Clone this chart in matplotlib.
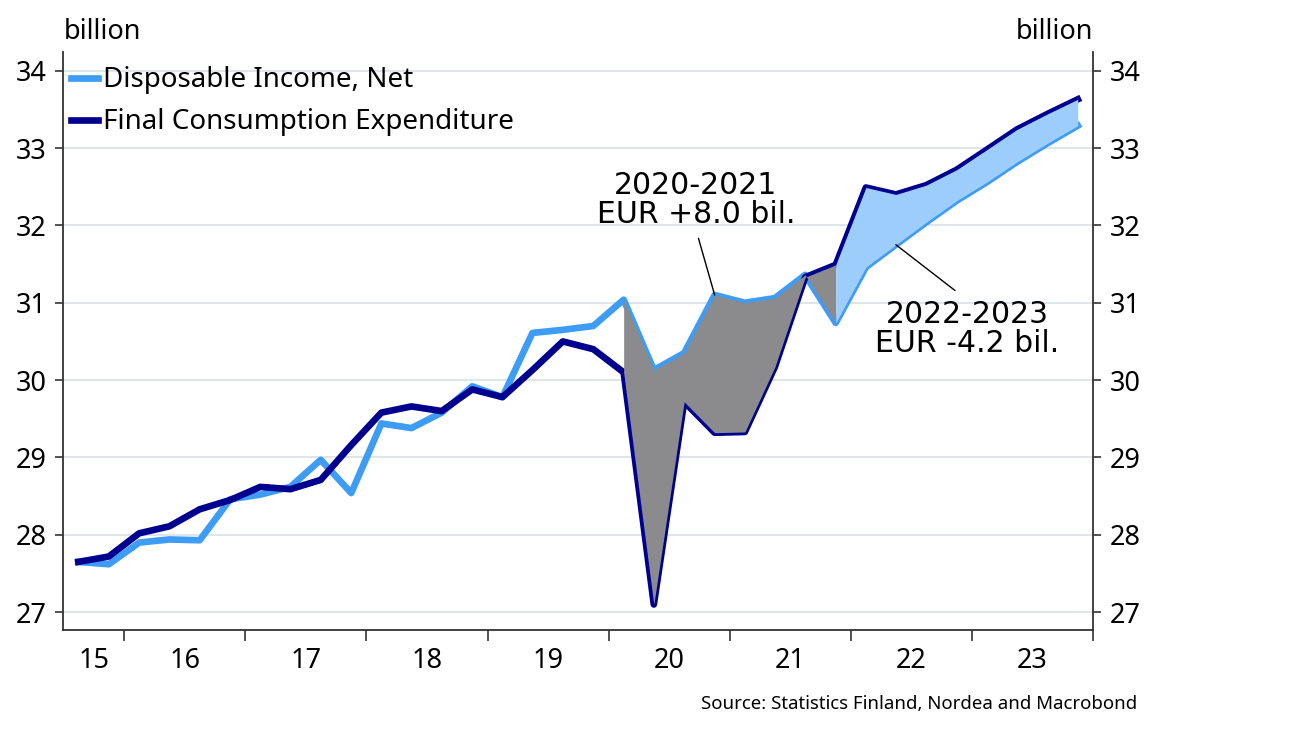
import matplotlib
matplotlib.use("Agg")
from matplotlib import pyplot as plt
import matplotlib.dates as mdates
import pandas as pd

plt.rcParams["font.family"] = ["Noto Sans", "DejaVu Sans"]

# quarterly data, EUR billion
quarters = pd.period_range("2015Q3", "2023Q4", freq="Q")

disposable_income = [27.65, 27.62, 27.90, 27.94, 27.93, 28.46, 28.52, 28.62,
                     28.97, 28.54, 29.44, 29.38, 29.58, 29.92, 29.78, 30.61,
                     30.65, 30.70, 31.04, 30.13, 30.35, 31.10, 31.00, 31.06,
                     31.36, 30.74, 31.46, 31.75, 32.04, 32.32, 32.56, 32.82,
                     33.06, 33.29]

consumption = [27.65, 27.72, 28.02, 28.11, 28.33, 28.45, 28.62, 28.59,
               28.71, 29.16, 29.58, 29.66, 29.60, 29.88, 29.78, 30.13,
               30.50, 30.40, 30.10, 27.10, 29.72, 29.32, 29.33, 30.17,
               31.33, 31.49, 32.49, 32.40, 32.52, 32.72, 32.98, 33.24,
               33.44, 33.63]

year_labels = ["15", "16", "17", "18", "19", "20", "21", "22", "23"]

light = "#3d9cf5"
dark = "#00008f"

# plot at the middle of each quarter
x = quarters.start_time + (quarters.end_time - quarters.start_time) / 2

fig = plt.figure(figsize=(13, 7.34), dpi=100)
ax = fig.add_axes([0.0485, 0.1417, 0.7923, 0.7873])

ax.plot(x, disposable_income, color=light, lw=4.8, label="Disposable Income, Net", zorder=2)
ax.plot(x, consumption, color=dark, lw=4.8, label="Final Consumption Expenditure", zorder=2)

# shaded gaps, drawn over the lines
ax.fill_between(x[18:26], disposable_income[18:26], consumption[18:26],
                color="#8b8a8c", lw=0, zorder=3)
ax.fill_between(x[25:], disposable_income[25:], consumption[25:],
                color="#9dcdfb", lw=0, zorder=3)

ax.set_ylim(26.77, 34.24)
ax.set_xlim(pd.Timestamp("2015-07-01"), pd.Timestamp("2024-01-01"))
ax.set_yticks(range(27, 35))
ax.grid(axis="y", color="#d5e1e7", lw=1.2, zorder=0)
ax.set_axisbelow(True)

# year boundaries as ticks, year labels centred in between
ax.xaxis.set_major_locator(mdates.YearLocator())
ax.xaxis.set_major_formatter(plt.NullFormatter())
label_pos = [pd.Timestamp("2015-10-01")] + [pd.Timestamp(f"20{y}-07-02") for y in year_labels[1:]]
ax.set_xticks(label_pos, minor=True)
ax.set_xticklabels(year_labels, minor=True)
ax.tick_params(axis="x", which="major", length=8, width=1.2, color="#333333")
ax.tick_params(axis="x", which="minor", length=0, pad=12, labelsize=19.5)
ax.tick_params(axis="y", length=6, width=1.2, color="#333333", pad=6, labelsize=19.5,
               left=True, right=True, labelleft=True, labelright=True)

for s in ["left", "right", "bottom"]:
    ax.spines[s].set_color("#333333")
    ax.spines[s].set_linewidth(1.3)
ax.spines["top"].set_visible(False)

ax.legend(loc="upper left", bbox_to_anchor=(-0.008, 1.004), frameon=False, fontsize=20,
          handlelength=0.95, handletextpad=0.2, labelspacing=0.5, borderaxespad=0.2)

fig.text(0.049, 0.957, "billion", fontsize=19.5, ha="left", va="center")
fig.text(0.841, 0.957, "billion", fontsize=19.5, ha="right", va="center")

ann = dict(fontsize=21.5, family="DejaVu Sans", ha="center", va="center", linespacing=1.0)
ax.annotate("2020-2021\nEUR +8.0 bil.", xy=(x[21], disposable_income[21]),
            xytext=(pd.Timestamp("2020-09-20"), 32.33), zorder=5,
            arrowprops=dict(arrowstyle="-", color="black", lw=1, shrinkA=5, shrinkB=0,
                            relpos=(0.5, 0)), **ann)
ax.annotate("2022-2023\nEUR -4.2 bil.", xy=(x[27], disposable_income[27]),
            xytext=(pd.Timestamp("2022-12-18"), 30.66), zorder=5,
            arrowprops=dict(arrowstyle="-", color="black", lw=1, shrinkA=8, shrinkB=0,
                            relpos=(0.5, 1)), **ann)

fig.text(0.875, 0.041, "Source: Statistics Finland, Nordea and Macrobond", fontsize=13.4,
         ha="right", va="center")

fig.savefig("out.png", dpi=100)
